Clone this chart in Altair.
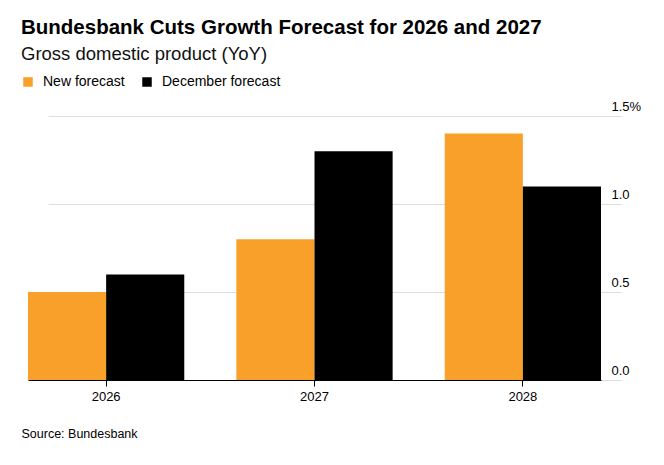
import altair as alt
import pandas as pd

years = ["2026", "2027", "2028"]
new_forecast = [0.5, 0.8, 1.4]
dec_forecast = [0.6, 1.3, 1.1]
series = ["New forecast", "December forecast"]
colors = ["#F9A02B", "#000000"]
y_ticks = [0.0, 0.5, 1.0, 1.5]

rows = []
for i, yr in enumerate(years):
    rows.append({"year": yr, "series": series[0], "value": new_forecast[i]})
    rows.append({"year": yr, "series": series[1], "value": dec_forecast[i]})
df = pd.DataFrame(rows)

FONT = "Liberation Sans"

chart = alt.Chart(df).mark_bar().encode(
    x=alt.X(
        "year:N",
        sort=years,
        scale=alt.Scale(range=[7, 580], paddingInner=0.25, paddingOuter=0),
        axis=alt.Axis(
            title="Source: Bundesbank",
            titleAnchor="start",
            titleAlign="left",
            titleX=0,
            titleFontWeight="normal",
            titleFontSize=12.5,
            titleFont=FONT,
            titleColor="#000000",
            titlePadding=24,
            labelAngle=0,
            labelFont=FONT,
            labelFontSize=13,
            labelColor="#000000",
            labelPadding=4,
            tickSize=6,
            tickColor="#000000",
            domainColor="#000000",
            grid=False,
        ),
    ),
    xOffset=alt.XOffset("series:N", sort=series, scale=alt.Scale(paddingInner=0, paddingOuter=0)),
    y=alt.Y(
        "value:Q",
        scale=alt.Scale(domain=[0, 1.5]),
        axis=alt.Axis(
            orient="right",
            title=None,
            values=y_ticks,
            format=".1f",
            labelExpr="datum.value == 1.5 ? datum.label + '%' : datum.label",
            labelAlign="left",
            labelBaseline="alphabetic",
            labelPadding=-17,
            labelOffset=-6,
            labelFont=FONT,
            labelFontSize=13,
            labelColor="#000000",
            ticks=False,
            tickSize=0,
            domain=False,
            grid=True,
            gridColor="#dddddd",
        ),
    ),
    color=alt.Color(
        "series:N",
        sort=series,
        scale=alt.Scale(domain=series, range=colors),
        legend=alt.Legend(
            title=None,
            orient="none",
            legendX=0,
            legendY=-41,
            direction="horizontal",
            symbolType="square",
            symbolSize=90,
            symbolStrokeWidth=0,
            labelFont=FONT,
            labelFontSize=14,
            labelColor="#000000",
            labelOffset=8,
            columnPadding=15,
            padding=0,
        ),
    ),
).properties(
    width=607,
    height=264,
    padding={"left": 13, "top": 10, "right": 5, "bottom": 5},
    title=alt.TitleParams(
        text="Bundesbank Cuts Growth Forecast for 2026 and 2027",
        subtitle="Gross domestic product (YoY)",
        anchor="start",
        font=FONT,
        fontSize=20.5,
        fontWeight="bold",
        color="#000000",
        subtitleFont=FONT,
        subtitleFontSize=18.5,
        subtitleColor="#111111",
        subtitlePadding=6,
        offset=12,
    ),
).configure_view(stroke=None)

chart.save("out.html", embed_options={"renderer": "svg", "actions": False})
